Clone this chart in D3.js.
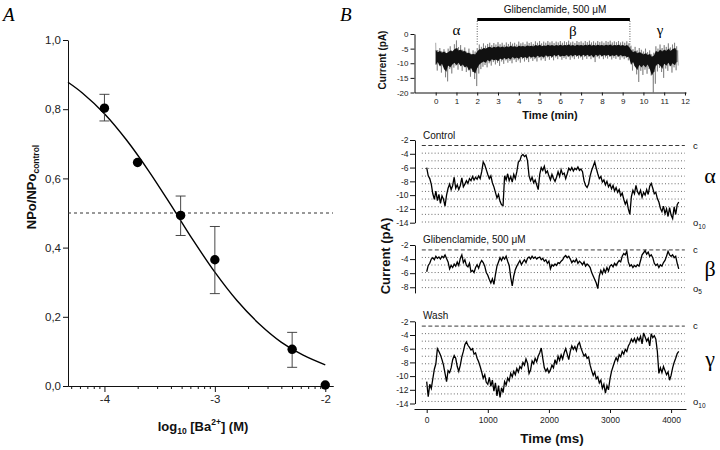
<!DOCTYPE html>
<html><head><meta charset="utf-8">
<script src="https://cdn.jsdelivr.net/npm/d3@7"></script>
<style>
body{margin:0;background:#fff}
svg{display:block;font-family:"Liberation Sans",Arial,sans-serif}
</style></head><body>
<svg id="c" width="720" height="450"></svg>
<script>
// ---------- Panel A data ----------
const logBa = [-4, -3.7, -3.31, -3, -2.3, -2];
const npoRatio = [0.803, 0.646, 0.493, 0.365, 0.106, 0.003];
const errHigh = [0.843, null, 0.549, 0.461, 0.155, null];
const errLow = [0.766, null, 0.435, 0.267, 0.054, null];
const fitX = [-4.33, -4.2, -4.0, -3.8, -3.6, -3.4, -3.2, -3.0, -2.8, -2.6, -2.4, -2.2, -2.0];
const fitY = [0.878, 0.847, 0.787, 0.711, 0.622, 0.524, 0.423, 0.329, 0.247, 0.180, 0.127, 0.089, 0.061];
const aYTicks = [0, 0.2, 0.4, 0.6, 0.8, 1.0];
const aXTicks = [-4, -3, -2];
const halfLevel = 0.5;

// ---------- Panel B top (long recording) ----------
const longStep = 0.1; // min
const longHi = [-3.0,-5.5,-4.8,-6.0,-5.2,-6.5,-5.0,-4.2,-5.8,-3.5,-2.2,-4.5,-3.8,-5.4,-4.6,-6.2,-5.0,-6.8,-5.6,-6.0,
 -4.8,-3.6,-4.4,-3.2,-4.0,-3.4,-3.0,-3.8,-3.1,-3.6,-2.8,-3.5,-3.0,-3.7,-2.9,-3.4,-2.7,-3.3,-3.0,-3.6,
 -2.6,-3.2,-2.9,-3.5,-2.6,-3.1,-2.8,-3.4,-2.5,-3.0,-2.4,-3.2,-2.6,-3.0,-2.4,-2.9,-2.5,-3.1,-2.6,-2.9,
 -2.4,-3.0,-2.5,-2.8,-2.3,-2.9,-2.6,-3.1,-2.4,-2.8,-2.5,-3.0,-2.4,-2.8,-2.3,-2.9,-2.5,-3.0,-2.4,-2.8,
 -2.5,-3.0,-2.4,-2.7,-2.3,-2.9,-2.5,-2.8,-2.4,-2.9,-2.6,-3.0,-2.5,-3.2,-4.0,-5.2,-4.4,-5.6,-4.8,-5.4,
 -6.0,-5.0,-6.2,-5.6,-7.0,-6.4,-4.2,-5.0,-3.6,-4.8,-3.8,-4.4,-3.2,-4.6,-3.6,-3.0,-4.2];
const longLo = [-12.5,-10.5,-13.2,-11.0,-14.8,-16.2,-12.0,-13.5,-11.5,-10.8,-12.2,-10.5,-12.6,-11.2,-13.0,-12.4,-14.6,-13.0,-15.4,-17.8,
 -13.5,-12.0,-11.2,-10.6,-11.4,-10.0,-10.8,-9.6,-10.4,-9.8,-10.9,-9.4,-10.2,-9.0,-9.8,-9.2,-10.0,-8.8,-9.6,-9.0,
 -9.8,-8.6,-9.4,-8.8,-9.6,-8.4,-9.2,-8.6,-9.4,-8.2,-9.0,-8.4,-9.2,-8.0,-8.8,-8.2,-9.0,-8.0,-8.6,-7.8,
 -8.8,-8.2,-8.6,-7.9,-8.8,-8.0,-8.6,-7.8,-8.4,-8.0,-8.8,-7.9,-8.5,-7.8,-8.6,-8.0,-9.6,-7.9,-8.4,-7.7,
 -8.6,-8.0,-8.4,-7.8,-8.7,-8.1,-8.5,-7.9,-8.8,-8.0,-8.6,-8.2,-9.0,-8.8,-12.5,-11.0,-13.8,-16.4,-12.6,-14.0,
 -12.2,-13.6,-12.0,-14.2,-20.0,-17.0,-12.8,-11.6,-13.0,-15.0,-11.8,-12.6,-11.0,-13.2,-11.4,-12.4,-10.8];
// dense core of the noisy band (upper / lower edge)
const longCoreHi = [-5.5,-6.2,-5.8,-6.4,-6.0,-6.6,-6.2,-5.6,-6.0,-5.2,-4.8,-5.6,-5.4,-6.0,-5.8,-6.6,-6.4,-7.0,-6.8,-7.0,
 -6.0,-5.2,-5.4,-4.8,-5.0,-4.6,-4.4,-4.8,-4.4,-4.6,-4.2,-4.6,-4.3,-4.6,-4.2,-4.5,-4.0,-4.4,-4.2,-4.5,
 -4.0,-4.3,-4.1,-4.4,-3.9,-4.2,-4.0,-4.3,-3.8,-4.1,-3.7,-4.2,-3.9,-4.1,-3.7,-4.0,-3.8,-4.1,-3.8,-4.0,
 -3.7,-4.0,-3.8,-3.9,-3.6,-4.0,-3.8,-4.1,-3.7,-3.9,-3.8,-4.0,-3.7,-3.9,-3.6,-4.0,-3.8,-4.0,-3.7,-3.9,
 -3.8,-4.0,-3.7,-3.9,-3.6,-4.0,-3.8,-3.9,-3.7,-4.0,-3.8,-4.1,-3.8,-4.4,-5.4,-6.2,-5.8,-6.6,-6.2,-6.6,
 -7.0,-6.6,-7.2,-6.8,-7.8,-7.4,-5.8,-6.2,-5.4,-6.0,-5.4,-5.8,-5.0,-5.8,-5.2,-4.8,-5.6];
const longCoreLo = [-10.5,-9.6,-11.0,-10.2,-12.0,-12.8,-10.8,-11.4,-10.4,-9.8,-10.6,-9.8,-11.0,-10.4,-11.4,-11.0,-12.4,-11.6,-12.8,-13.4,
 -11.6,-10.4,-9.8,-9.4,-9.8,-8.9,-9.4,-8.6,-9.0,-8.7,-9.2,-8.4,-8.8,-8.2,-8.6,-8.2,-8.7,-7.9,-8.4,-8.0,
 -8.5,-7.8,-8.2,-7.9,-8.3,-7.6,-8.0,-7.7,-8.1,-7.4,-7.9,-7.6,-8.0,-7.3,-7.7,-7.4,-7.9,-7.2,-7.6,-7.1,
 -7.7,-7.4,-7.6,-7.2,-7.7,-7.2,-7.6,-7.1,-7.5,-7.2,-7.7,-7.1,-7.5,-7.1,-7.6,-7.2,-8.0,-7.1,-7.5,-7.0,
 -7.6,-7.2,-7.4,-7.1,-7.6,-7.3,-7.5,-7.1,-7.7,-7.2,-7.6,-7.4,-7.9,-7.8,-10.4,-9.6,-11.2,-12.2,-10.6,-11.4,
 -10.6,-11.4,-10.4,-11.8,-14.0,-13.0,-10.8,-10.2,-10.8,-11.8,-10.2,-10.8,-9.8,-11.0,-10.0,-10.6,-9.6];
const longYTicks = [0, -5, -10, -15, -20];
const longXTicks = [0,1,2,3,4,5,6,7,8,9,10,11,12];
const glibStart = 2.0, glibEnd = 9.35;

// ---------- Panel B bottom (expanded traces, 25 ms sampling) ----------
const traceStep = 25; // ms
const controlTrace = [-6.0,-7.2,-7.6,-8.4,-9.8,-10.6,-9.4,-10.8,-9.9,-11.2,-10.1,-10.6,-11.6,-10.0,-9.0,-8.4,-9.2,-8.6,-7.4,-9.0,
 -8.5,-9.2,-8.6,-7.5,-8.8,-8.4,-7.9,-8.3,-7.6,-7.9,-7.3,-7.8,-7.4,-7.7,-7.2,-7.6,-6.6,-5.2,-5.6,-6.3,
 -7.0,-7.6,-7.2,-8.2,-8.8,-9.6,-10.4,-9.9,-10.9,-11.4,-11.5,-7.2,-7.8,-6.9,-7.9,-7.3,-8.1,-7.0,-7.6,-6.6,
 -5.2,-5.0,-4.3,-4.1,-4.4,-4.2,-5.0,-7.2,-7.9,-7.4,-8.2,-7.8,-8.5,-9.2,-7.0,-6.0,-6.4,-5.8,-6.8,-6.5,
 -7.2,-7.8,-7.0,-7.6,-8.0,-7.4,-6.6,-7.3,-6.3,-7.0,-6.8,-7.6,-6.9,-6.1,-6.4,-6.0,-6.5,-6.1,-6.3,-5.9,
 -6.4,-6.2,-6.6,-7.9,-8.6,-8.9,-8.4,-7.2,-6.4,-5.8,-5.2,-6.1,-6.9,-7.6,-7.3,-8.1,-7.8,-8.5,-8.0,-8.8,
 -8.4,-9.1,-8.6,-9.4,-8.9,-9.6,-9.2,-10.1,-9.7,-10.6,-11.3,-10.8,-12.0,-12.8,-10.2,-9.3,-9.8,-8.6,-9.5,-9.9,
 -9.3,-10.3,-9.6,-10.0,-9.2,-9.9,-8.7,-8.3,-9.0,-9.8,-9.6,-10.5,-11.0,-11.9,-12.4,-11.6,-12.7,-12.0,-13.1,-11.8,
 -12.9,-13.4,-11.7,-12.8,-11.4,-11.0];
const glibTrace = [-5.8,-4.9,-4.6,-4.0,-3.8,-4.1,-3.6,-3.9,-3.7,-4.0,-3.6,-3.8,-3.4,-3.9,-4.4,-5.4,-4.9,-5.2,-4.7,-5.0,
 -4.4,-4.9,-3.9,-3.4,-4.5,-4.1,-4.9,-5.1,-4.6,-5.8,-5.6,-5.9,-5.2,-4.8,-5.3,-4.6,-4.2,-4.5,-5.0,-5.9,
 -6.3,-6.9,-7.4,-6.8,-7.6,-6.2,-5.0,-4.4,-3.8,-4.2,-3.7,-4.0,-3.6,-4.3,-4.9,-6.6,-7.8,-6.4,-5.5,-5.0,
 -4.6,-4.2,-4.8,-4.4,-4.1,-4.5,-3.9,-3.7,-4.0,-3.6,-3.9,-3.7,-4.0,-3.8,-3.7,-4.1,-3.9,-4.3,-4.1,-4.6,
 -4.3,-5.4,-4.8,-5.0,-4.7,-4.9,-4.5,-4.6,-4.3,-4.1,-3.7,-3.5,-3.8,-3.6,-4.0,-4.5,-4.2,-4.4,-4.0,-4.6,
 -4.3,-4.5,-4.8,-4.4,-5.0,-4.7,-4.9,-5.2,-5.9,-6.4,-6.9,-7.4,-8.2,-6.4,-5.6,-6.1,-5.4,-5.9,-5.2,-5.7,
 -5.0,-4.8,-5.1,-4.6,-4.9,-4.5,-4.2,-4.4,-3.6,-3.2,-3.4,-2.9,-4.4,-5.0,-4.8,-5.2,-4.9,-5.1,-4.8,-5.0,
 -4.2,-3.4,-3.1,-2.8,-3.3,-3.0,-3.6,-3.4,-3.8,-4.6,-4.9,-4.7,-5.2,-4.8,-5.0,-4.5,-4.2,-3.6,-2.9,-3.4,
 -3.6,-3.4,-3.8,-3.6,-4.6,-5.4];
const washTrace = [-10.8,-13.0,-11.2,-11.8,-10.4,-9.0,-8.2,-6.0,-6.4,-6.9,-7.6,-8.4,-9.6,-10.8,-9.2,-9.5,-8.8,-7.6,-7.0,-7.4,
 -8.6,-9.3,-8.4,-7.2,-6.4,-5.4,-5.0,-5.5,-5.8,-6.2,-6.0,-6.8,-6.6,-7.4,-7.9,-8.6,-9.4,-10.3,-9.8,-10.9,
 -11.2,-10.2,-11.5,-10.6,-12.2,-11.0,-12.9,-11.4,-13.1,-11.7,-12.4,-10.8,-11.3,-10.3,-10.7,-9.6,-10.1,-9.3,-9.8,-8.9,
 -9.4,-8.6,-8.9,-8.0,-8.4,-7.5,-8.1,-9.6,-9.1,-7.8,-8.2,-7.4,-7.9,-7.1,-6.6,-5.9,-7.4,-8.8,-9.3,-8.9,
 -9.5,-9.1,-8.4,-8.8,-7.6,-8.3,-7.1,-7.7,-6.9,-7.5,-6.6,-6.0,-6.8,-7.6,-6.4,-5.6,-6.1,-5.7,-6.3,-5.4,
 -5.1,-5.9,-6.5,-7.1,-6.8,-7.4,-7.2,-8.4,-9.2,-9.9,-9.4,-10.4,-10.1,-11.0,-10.6,-11.8,-11.2,-12.5,-11.4,-12.0,
 -10.4,-9.3,-8.6,-7.9,-7.3,-7.8,-6.9,-7.2,-6.4,-6.8,-6.1,-6.4,-5.6,-5.2,-4.6,-5.0,-4.5,-5.1,-4.4,-4.8,
 -4.2,-5.3,-3.7,-4.3,-4.9,-4.5,-5.6,-3.8,-4.4,-4.1,-4.6,-6.4,-9.6,-8.8,-9.5,-8.6,-9.2,-9.8,-9.4,-10.6,
 -9.9,-8.8,-8.0,-7.4,-6.7,-6.4];
const msTicks = [0, 1000, 2000, 3000, 4000];
const controlYTicks = [-2,-4,-6,-8,-10,-12,-14];
const glibYTicks = [-2,-4,-6,-8];
const washYTicks = [-2,-4,-6,-8,-10,-12,-14];
// closed level and unitary open levels
const controlLevels = {closed: -2.8, unit: 1.11, n: 10};
const glibLevels = {closed: -2.7, unit: 1.07, n: 5};
const washLevels = {closed: -2.7, unit: 1.1, n: 10};

// ================= drawing =================
const svg = d3.select('#c');
const serif = '"Liberation Serif","DejaVu Serif",serif';
function styleAxis(g, size) {
  g.attr('font-family', null).attr('font-size', null);
  g.selectAll('path.domain').attr('stroke', '#111').attr('stroke-width', 1);
  g.selectAll('.tick line').attr('stroke', '#111');
  g.selectAll('.tick text').attr('fill', '#222').style('font-size', size + 'px');
}

// ---------- Panel A ----------
const xA = d3.scaleLinear().domain([-4.33, -1.93]).range([68, 333]);
const yA = d3.scaleLinear().domain([0, 1]).range([386, 40]);
const commaFmt = d => d3.format('.1f')(d).replace('.', ',');

svg.append('g').attr('transform', 'translate(68,0)')
  .call(d3.axisLeft(yA).tickValues(aYTicks).tickFormat(commaFmt).tickSize(5).tickSizeOuter(0).tickPadding(2))
  .call(g => styleAxis(g, 11.5));

const minorA = [];
[-5, -4, -3].forEach(e => { for (let k = 2; k <= 9; k++) { const v = Math.log10(k * Math.pow(10, e)); if (v > -4.33 && v < -1.93) minorA.push(v); } });
svg.append('g').attr('transform', 'translate(0,386)')
  .call(d3.axisBottom(xA).tickValues(minorA).tickFormat('').tickSize(3).tickSizeOuter(0))
  .call(g => styleAxis(g, 11));
svg.append('g').attr('transform', 'translate(0,386)')
  .call(d3.axisBottom(xA).tickValues(aXTicks).tickFormat(d => String(d)).tickSize(6).tickSizeOuter(0))
  .call(g => styleAxis(g, 11.5));

svg.append('line').attr('x1', xA(-4.33)).attr('x2', xA(-1.93)).attr('y1', yA(halfLevel)).attr('y2', yA(halfLevel))
  .attr('stroke', '#333').attr('stroke-width', 1).attr('stroke-dasharray', '3,3');

svg.append('path').datum(fitX.map((x, i) => [x, fitY[i]]))
  .attr('d', d3.line().x(d => xA(d[0])).y(d => yA(d[1])).curve(d3.curveCatmullRom))
  .attr('fill', 'none').attr('stroke', '#000').attr('stroke-width', 1.4);

logBa.forEach((x, i) => {
  if (errHigh[i] == null) return;
  const g = svg.append('g').attr('stroke', '#333').attr('stroke-width', 0.9);
  g.append('line').attr('x1', xA(x)).attr('x2', xA(x)).attr('y1', yA(errHigh[i])).attr('y2', yA(errLow[i]));
  [errHigh[i], errLow[i]].forEach(v => g.append('line').attr('x1', xA(x) - 5).attr('x2', xA(x) + 5).attr('y1', yA(v)).attr('y2', yA(v)));
});
svg.selectAll('circle.pt').data(logBa).enter().append('circle')
  .attr('cx', d => xA(d)).attr('cy', (d, i) => yA(npoRatio[i])).attr('r', 4.7).attr('fill', '#000');

const yl = svg.append('text').attr('transform', 'translate(36,187) rotate(-90)').attr('text-anchor', 'middle')
  .attr('font-weight', 'bold').attr('font-size', 13).attr('fill', '#111');
yl.append('tspan').text('NPo/NPo');
yl.append('tspan').attr('font-size', 8.5).attr('dy', 3).text('control');
const xl = svg.append('text').attr('x', 203).attr('y', 431).attr('text-anchor', 'middle')
  .attr('font-weight', 'bold').attr('font-size', 13).attr('fill', '#111');
xl.append('tspan').text('log');
xl.append('tspan').attr('font-size', 8.5).attr('dy', 3).text('10');
xl.append('tspan').attr('dy', -3).text(' [Ba');
xl.append('tspan').attr('font-size', 8.5).attr('dy', -6).text('2+');
xl.append('tspan').attr('dy', 6).text('] (M)');

svg.append('text').attr('x', 3).attr('y', 21).attr('font-family', serif).attr('font-style', 'italic').attr('font-size', 19).text('A');
svg.append('text').attr('x', 340).attr('y', 21).attr('font-family', serif).attr('font-style', 'italic').attr('font-size', 19).text('B');

// ---------- Panel B top ----------
const xT = d3.scaleLinear().domain([-1.02, 12.05]).range([414.5, 686]);
const yT = d3.scaleLinear().domain([-20, 0]).range([92.5, 34]);
svg.append('g').attr('transform', 'translate(414.5,0)')
  .call(d3.axisLeft(yT).tickValues(longYTicks).tickFormat(d => String(d)).tickSize(4).tickSizeOuter(0).tickPadding(2))
  .call(g => styleAxis(g, 8));
svg.append('g').attr('transform', 'translate(0,92.5)')
  .call(d3.axisBottom(xT).tickValues(longXTicks).tickFormat(d => String(d)).tickSize(3).tickSizeOuter(0).tickPadding(3))
  .call(g => styleAxis(g, 8));

// outer noise (spikes) as a zigzag, dense core as a filled band
const zig = [];
longHi.forEach((h, i) => {
  const t = i * longStep;
  zig.push([t, h]); zig.push([t + longStep * 0.25, longCoreLo[i]]);
  zig.push([t + longStep * 0.5, longCoreHi[i]]); zig.push([t + longStep * 0.75, longLo[i]]);
});
svg.append('path').datum(zig).attr('d', d3.line().x(d => xT(d[0])).y(d => yT(d[1])))
  .attr('fill', 'none').attr('stroke', '#555').attr('stroke-width', 0.5);
svg.append('path').datum(longCoreHi.map((h, i) => [i * longStep, h, longCoreLo[i]]))
  .attr('d', d3.area().x(d => xT(d[0])).y0(d => yT(d[2])).y1(d => yT(d[1])))
  .attr('fill', '#111');

svg.append('line').attr('x1', xT(glibStart)).attr('x2', xT(glibEnd)).attr('y1', 19.5).attr('y2', 19.5)
  .attr('stroke', '#000').attr('stroke-width', 3);
[glibStart, glibEnd].forEach(t => svg.append('line').attr('x1', xT(t)).attr('x2', xT(t)).attr('y1', 21).attr('y2', 46)
  .attr('stroke', '#333').attr('stroke-width', 0.8).attr('stroke-dasharray', '1,1.5'));
svg.append('text').attr('x', 555).attr('y', 13).attr('text-anchor', 'middle').attr('font-size', 10).attr('fill', '#111').text('Glibenclamide, 500 μM');
[['α', 1.0, 35], ['β', 6.6, 36], ['γ', 10.8, 35]].forEach(([s, t, y]) =>
  svg.append('text').attr('x', xT(t)).attr('y', y).attr('text-anchor', 'middle').attr('font-family', serif).attr('font-size', 15).text(s));
svg.append('text').attr('transform', 'translate(386,60) rotate(-90)').attr('text-anchor', 'middle')
  .attr('font-weight', 'bold').attr('font-size', 10).attr('fill', '#111').text('Current (pA)');
svg.append('text').attr('x', 550).attr('y', 119).attr('text-anchor', 'middle')
  .attr('font-weight', 'bold').attr('font-size', 11).attr('fill', '#111').text('Time (min)');

// ---------- Panel B bottom ----------
const xM = d3.scaleLinear().domain([0, 4000]).range([426.7, 671.1]);
const lineX0 = -80, lineX1 = 4225;
const panels = [
  {data: controlTrace, ticks: controlYTicks, lv: controlLevels, dom: [-14, -2], rng: [222.7, 140], label: 'Control', labelY: 139, greek: 'α', greekY: 183},
  {data: glibTrace, ticks: glibYTicks, lv: glibLevels, dom: [-8.8, -2], rng: [292.9, 245], label: 'Glibenclamide, 500 μM', labelY: 243, greek: 'β', greekY: 276},
  {data: washTrace, ticks: washYTicks, lv: washLevels, dom: [-14, -2], rng: [403.5, 321.3], label: 'Wash', labelY: 319, greek: 'γ', greekY: 366}
];
panels.forEach(p => {
  const y = d3.scaleLinear().domain(p.dom).range(p.rng);
  svg.append('g').attr('transform', 'translate(415,0)')
    .call(d3.axisLeft(y).tickValues(p.ticks).tickFormat(d => String(d)).tickSize(5).tickSizeOuter(0).tickPadding(1.5))
    .call(g => styleAxis(g, 8.5));
  for (let k = 1; k <= p.lv.n; k++) {
    const v = p.lv.closed - k * p.lv.unit;
    svg.append('line').attr('x1', xM(lineX0)).attr('x2', xM(lineX1)).attr('y1', y(v)).attr('y2', y(v))
      .attr('stroke', '#444').attr('stroke-width', 0.8).attr('stroke-dasharray', '1,2.2');
  }
  svg.append('line').attr('x1', xM(lineX0)).attr('x2', xM(lineX1)).attr('y1', y(p.lv.closed)).attr('y2', y(p.lv.closed))
    .attr('stroke', '#222').attr('stroke-width', 0.9).attr('stroke-dasharray', '4,2.5');
  svg.append('path').datum(p.data).attr('d', d3.line().x((d, i) => xM(i * traceStep)).y(d => y(d)))
    .attr('fill', 'none').attr('stroke', '#000').attr('stroke-width', 1.3).attr('stroke-linejoin', 'miter');
  svg.append('text').attr('x', 423).attr('y', p.labelY).attr('font-size', 10).attr('fill', '#111').text(p.label);
  svg.append('text').attr('x', 693).attr('y', y(p.lv.closed) + 3).attr('font-size', 9.5).attr('fill', '#111').text('c');
  const o = svg.append('text').attr('x', 693).attr('y', y(p.lv.closed - p.lv.n * p.lv.unit) + 4).attr('font-size', 9.5).attr('fill', '#111');
  o.append('tspan').text('o');
  o.append('tspan').attr('font-size', 6.5).attr('dy', 2.5).text(String(p.lv.n));
  svg.append('text').attr('x', 710).attr('y', p.greekY).attr('text-anchor', 'middle').attr('font-family', serif).attr('font-size', 22).text(p.greek);
});
const xAxisM = d3.scaleLinear().domain([xM.invert(414), xM.invert(686)]).range([414, 686]);
svg.append('g').attr('transform', 'translate(0,409)')
  .call(d3.axisBottom(xAxisM).tickValues(msTicks).tickFormat(d => String(d)).tickSize(4).tickSizeOuter(0).tickPadding(4))
  .call(g => styleAxis(g, 8.5));
svg.append('text').attr('transform', 'translate(390,256) rotate(-90)').attr('text-anchor', 'middle')
  .attr('font-weight', 'bold').attr('font-size', 13).attr('fill', '#111').text('Current (pA)');
svg.append('text').attr('x', 552).attr('y', 443).attr('text-anchor', 'middle')
  .attr('font-weight', 'bold').attr('font-size', 13.5).attr('fill', '#111').text('Time (ms)');
</script>
</body></html>
